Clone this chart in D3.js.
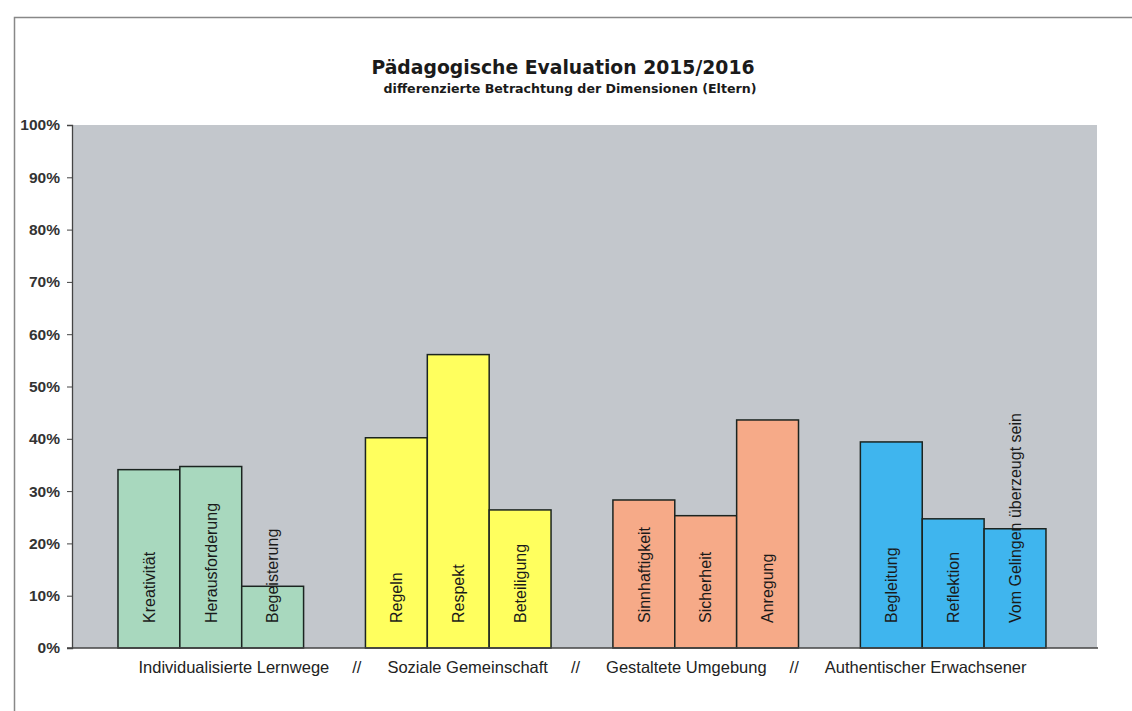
<!DOCTYPE html>
<html>
<head>
<meta charset="utf-8">
<script src="https://cdn.jsdelivr.net/npm/d3@7"></script>
<style>
  body { margin: 0; background: #fff; }
  svg { display: block; }
</style>
</head>
<body>
<div id="chart"></div>
<script>
// data
var groups = ["Individualisierte Lernwege", "Soziale Gemeinschaft", "Gestaltete Umgebung", "Authentischer Erwachsener"];
var groupColors = ["#a8d8be", "#ffff5e", "#f6aa88", "#3fb5ee"];
var items = [
  ["Kreativität", "Herausforderung", "Begeisterung"],
  ["Regeln", "Respekt", "Beteiligung"],
  ["Sinnhaftigkeit", "Sicherheit", "Anregung"],
  ["Begleitung", "Reflektion", "Vom Gelingen überzeugt sein"]
];
var values = [
  [0.341, 0.347, 0.118],
  [0.402, 0.561, 0.264],
  [0.283, 0.253, 0.436],
  [0.394, 0.247, 0.228]
];
var yTicks = [0, 0.1, 0.2, 0.3, 0.4, 0.5, 0.6, 0.7, 0.8, 0.9, 1];

var width = 1132, height = 711;
var margin = { top: 125, right: 35, bottom: 63, left: 72 };
var sans = "Liberation Sans, Arial, sans-serif";

var svg = d3.select("#chart").append("svg")
    .attr("width", width)
    .attr("height", height);

// page frame from the scan
svg.append("path")
    .attr("d", "M14.5," + height + "V17.5H" + width)
    .attr("fill", "none")
    .attr("stroke", "#888")
    .attr("stroke-width", 1.5);

var x0 = d3.scaleBand()
    .domain(groups)
    .range([margin.left, width - margin.right])
    .paddingInner(0.25)
    .paddingOuter(0.196)
    .align(0.474);

var x1 = d3.scaleBand()
    .domain([0, 1, 2])
    .range([0, x0.bandwidth()]);

var y = d3.scaleLinear()
    .domain([0, 1])
    .range([height - margin.bottom, margin.top]);

// plot background
svg.append("rect")
    .attr("x", margin.left)
    .attr("y", y(1))
    .attr("width", width - margin.right - margin.left)
    .attr("height", y(0) - y(1))
    .attr("fill", "#c3c7cc");

var g = svg.selectAll("g.group")
    .data(groups)
  .enter().append("g")
    .attr("class", "group")
    .attr("transform", function(d) { return "translate(" + x0(d) + ",0)"; });

g.selectAll("rect")
    .data(function(d, i) { return values[i].map(function(v, j) { return { v: v, j: j, gi: i }; }); })
  .enter().append("rect")
    .attr("x", function(d) { return x1(d.j); })
    .attr("y", function(d) { return y(d.v); })
    .attr("width", x1.bandwidth())
    .attr("height", function(d) { return y(0) - y(d.v); })
    .attr("fill", function(d) { return groupColors[d.gi]; })
    .attr("stroke", "#1b2420")
    .attr("stroke-width", 1.5);

g.selectAll("text")
    .data(function(d, i) { return items[i].map(function(name, j) { return { name: name, j: j }; }); })
  .enter().append("text")
    .attr("transform", function(d) {
      return "translate(" + (x1(d.j) + x1.bandwidth() / 2) + "," + (y(0) - 25) + ") rotate(-90)";
    })
    .attr("dy", "0.36em")
    .attr("font-family", sans)
    .attr("font-size", "16px")
    .attr("fill", "#1a1a1a")
    .text(function(d) { return d.name; });

// y axis
var yAxis = svg.append("g")
    .attr("transform", "translate(" + margin.left + ",0)")
    .call(d3.axisLeft(y).tickValues(yTicks).tickFormat(d3.format(".0%")).tickSize(5).tickPadding(7));
yAxis.select(".domain").attr("stroke", "#444").attr("stroke-width", 1.3);
yAxis.selectAll(".tick line").attr("stroke", "#444");
yAxis.selectAll("text")
    .attr("font-family", sans)
    .attr("font-size", "15.5px")
    .attr("font-weight", "bold")
    .attr("fill", "#333");

// x axis line
svg.append("line")
    .attr("x1", margin.left - 5)
    .attr("x2", width - margin.right + 1)
    .attr("y1", y(0))
    .attr("y2", y(0))
    .attr("stroke", "#444")
    .attr("stroke-width", 1.3);

// category title line
var xt = svg.append("text")
    .attr("x", (margin.left + width - margin.right) / 2 - 2)
    .attr("y", y(0) + 25)
    .attr("text-anchor", "middle")
    .attr("font-family", sans)
    .attr("font-size", "16.5px")
    .attr("fill", "#222");
groups.forEach(function(name, i) {
  if (i > 0) {
    xt.append("tspan").attr("dx", 23).text("//");
    xt.append("tspan").attr("dx", 26).text(name);
  } else {
    xt.append("tspan").text(name);
  }
});

// titles
svg.append("text")
    .attr("x", 563)
    .attr("y", 74)
    .attr("text-anchor", "middle")
    .attr("font-family", "DejaVu Sans, Verdana, sans-serif")
    .attr("font-weight", "bold")
    .attr("font-size", "18.8px")
    .attr("fill", "#1a1a1a")
    .text("Pädagogische Evaluation 2015/2016");

svg.append("text")
    .attr("x", 570)
    .attr("y", 93)
    .attr("text-anchor", "middle")
    .attr("font-family", "DejaVu Sans, Verdana, sans-serif")
    .attr("font-weight", "bold")
    .attr("font-size", "12.6px")
    .attr("fill", "#1a1a1a")
    .text("differenzierte Betrachtung der Dimensionen (Eltern)");
</script>
</body>
</html>
